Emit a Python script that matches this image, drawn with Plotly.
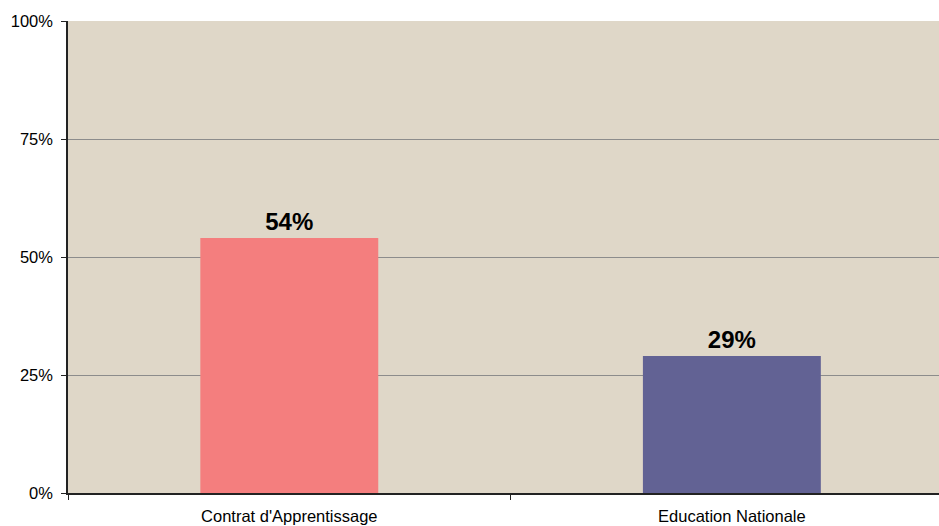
import plotly.graph_objects as go

categories = ["Contrat d'Apprentissage", "Education Nationale"]
values = [54, 29]
colors = ["#F47E7E", "#626294"]
y_ticks = [0, 25, 50, 75, 100]
y_tick_labels = ["0%", "25%", "50%", "75%", "100%"]

fig = go.Figure(go.Bar(
    x=categories, y=values, marker=dict(color=colors, line=dict(width=0)),
    width=0.402, text=[f"{v}%" for v in values], textposition="outside",
    textfont=dict(family="Liberation Sans, Arial", size=24, color="black", weight="bold"),
    cliponaxis=False, hoverinfo="skip",
))
fig.update_layout(
    width=939, height=526,
    margin=dict(l=68, r=0, t=21, b=33),
    paper_bgcolor="white", plot_bgcolor="#DFD7C8",
    font=dict(family="Liberation Sans, Arial", size=16, color="black"),
    showlegend=False,
)
fig.update_xaxes(
    range=[-0.5, 1.468], showgrid=False, showline=True, linecolor="#222222", linewidth=1.5,
    ticks="outside", tickson="boundaries", ticklen=5, tickcolor="#222222",
    tickfont=dict(size=16.5), ticklabelstandoff=7,
)
fig.update_yaxes(
    range=[0, 100], tickvals=y_ticks, ticktext=y_tick_labels,
    showgrid=True, gridcolor="#8C8C8C", gridwidth=1,
    showline=True, linecolor="#222222", linewidth=1.5,
    ticks="outside", ticklen=5, tickcolor="#222222", tickfont=dict(size=16.5),
    ticklabelstandoff=5, zeroline=False,
)
fig.write_html("out.html", config={"displayModeBar": False},
               post_script="document.body.style.margin='0';document.body.style.overflow='hidden';")
